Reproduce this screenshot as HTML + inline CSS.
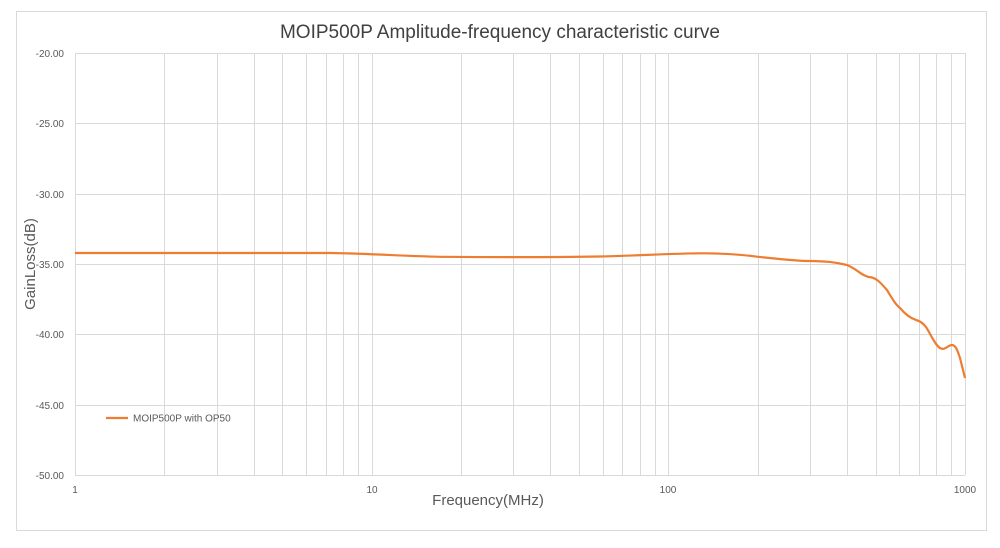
<!DOCTYPE html>
<html><head><style>body{margin:0;background:#fff}</style></head><body>
<svg width="1000" height="543" xmlns="http://www.w3.org/2000/svg" font-family="Liberation Sans, sans-serif">
<rect x="16.5" y="11.5" width="970" height="519" fill="#fff" stroke="#d9d9d9"/>
<text x="500" y="38" font-size="19" fill="#404040" text-anchor="middle">MOIP500P Amplitude-frequency characteristic curve</text>
<g stroke="#d9d9d9" stroke-width="1">
<line x1="75" x2="965" y1="53.5" y2="53.5"/><line x1="75" x2="965" y1="123.5" y2="123.5"/>
<line x1="75" x2="965" y1="194.5" y2="194.5"/><line x1="75" x2="965" y1="264.5" y2="264.5"/>
<line x1="75" x2="965" y1="334.5" y2="334.5"/><line x1="75" x2="965" y1="405.5" y2="405.5"/>
<line x1="75" x2="965" y1="475.5" y2="475.5"/>
</g>
<g id="v" stroke="#d9d9d9" stroke-width="1"></g>
<g font-size="10" fill="#595959" text-anchor="end">
<text x="64" y="57">-20.00</text><text x="64" y="127">-25.00</text><text x="64" y="198">-30.00</text>
<text x="64" y="268">-35.00</text><text x="64" y="338">-40.00</text><text x="64" y="409">-45.00</text><text x="64" y="479">-50.00</text>
</g>
<g font-size="10" fill="#595959" text-anchor="middle">
<text x="75" y="493">1</text><text x="372" y="493">10</text><text x="668" y="493">100</text><text x="965" y="493">1000</text>
</g>
<text x="488" y="505" font-size="15" fill="#595959" text-anchor="middle">Frequency(MHz)</text>
<text transform="translate(35,264) rotate(-90)" font-size="15" fill="#595959" text-anchor="middle">GainLoss(dB)</text>
<path d="M75,253 L330,253 C370,253.5 400,256 440,256.8 C500,257.3 560,257.2 600,256.5 C640,255.5 670,253.5 700,253.3 C730,253.2 745,255 757,256.7 C780,259 795,261 810,261 C825,261.2 835,262 847,265 C857,269 862,276 869,277 C876,277.5 880,282 887,290 C893,300 896,305 900,308 C905,314 910,318 916,320 C920,321 923,323 926,327 C930,333 935,345 940,348 C945,351 948,345 952,345 C956,345 958,352 960,358 L965,378" fill="none" stroke="#ed7d31" stroke-width="2.2"/>
<line x1="106" x2="128" y1="418" y2="418" stroke="#ed7d31" stroke-width="2.2"/>
<text x="133" y="421.5" font-size="10" fill="#595959">MOIP500P with OP50</text>
</svg>
<script>
var g=document.getElementById('v'),s='';
for(var d=0;d<3;d++)for(var k=1;k<10;k++){var x=75+296.67*(d+Math.log10(k));x=Math.round(x)+0.5;s+='<line x1="'+x+'" x2="'+x+'" y1="53" y2="475"/>';}
s+='<line x1="965.5" x2="965.5" y1="53" y2="475"/>';
g.innerHTML=s;
</script>
</body></html>
